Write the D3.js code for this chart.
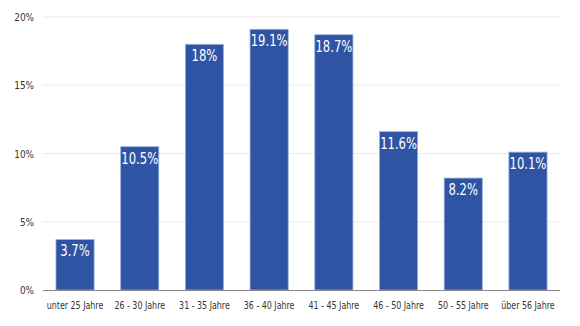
<!DOCTYPE html>
<html>
<head>
<meta charset="utf-8">
<script src="https://cdn.jsdelivr.net/npm/d3@7"></script>
<style>
  body { margin: 0; background: #fff; }
  svg { display: block; }
  text { font-family: 'DejaVu Sans Condensed', 'DejaVu Sans', sans-serif; font-stretch: condensed; }
</style>
</head>
<body>
<svg id="chart"></svg>
<script>
var categories = ["unter 25 Jahre", "26 - 30 Jahre", "31 - 35 Jahre", "36 - 40 Jahre",
                  "41 - 45 Jahre", "46 - 50 Jahre", "50 - 55 Jahre", "über 56 Jahre"];
var values = [3.7, 10.5, 18, 19.1, 18.7, 11.6, 8.2, 10.1];
var yTicks = [0, 5, 10, 15, 20];

var width = 580, height = 326;
var margin = { top: 17, right: 20, bottom: 36, left: 43 };

var svg = d3.select("#chart").attr("width", width).attr("height", height);
var g = svg.append("g").attr("transform", "translate(" + margin.left + "," + margin.top + ")");

var w = width - margin.left - margin.right;
var h = height - margin.top - margin.bottom;

var x = d3.scaleBand().domain(categories).range([0, w]).paddingInner(0.41).paddingOuter(0.2);
var y = d3.scaleLinear().domain([0, 20]).range([h, 0]);

// gridlines
g.selectAll(".grid")
  .data(yTicks.filter(function (d) { return d > 0; }))
  .enter().append("line")
  .attr("x1", 0).attr("x2", w)
  .attr("y1", function (d) { return y(d); })
  .attr("y2", function (d) { return y(d); })
  .attr("stroke", "#ebebeb").attr("stroke-width", 1);

// y axis labels
g.selectAll(".ylab")
  .data(yTicks)
  .enter().append("text")
  .attr("transform", function (d) { return "translate(-9," + (y(d) + 4) + ") scale(0.9,1)"; })
  .attr("text-anchor", "end")
  .style("font-size", "11px")
  .style("fill", "#333")
  .text(function (d) { return d + "%"; });

// bars
g.selectAll(".bar")
  .data(values)
  .enter().append("rect")
  .attr("x", function (d, i) { return x(categories[i]); })
  .attr("y", function (d) { return y(d); })
  .attr("width", x.bandwidth())
  .attr("height", function (d) { return h - y(d); })
  .attr("fill", "#2f54a4")
  .attr("stroke", "#9fb4dc")
  .attr("stroke-width", 0.8);

// value labels
g.selectAll(".val")
  .data(values)
  .enter().append("text")
  .attr("transform", function (d, i) {
    return "translate(" + (x(categories[i]) + x.bandwidth() / 2) + "," + (y(d) + 17) + ") scale(0.86,1)";
  })
  .attr("text-anchor", "middle")
  .style("font-size", "15px")
  .style("fill", "#fff")
  .text(function (d) { return d + "%"; });

// baseline
g.append("line")
  .attr("x1", 0).attr("x2", w)
  .attr("y1", h + 0.5).attr("y2", h + 0.5)
  .attr("stroke", "#888").attr("stroke-width", 1);

// x labels
g.selectAll(".xlab")
  .data(categories)
  .enter().append("text")
  .attr("transform", function (d) {
    return "translate(" + (x(d) + x.bandwidth() / 2) + "," + (h + 19) + ") scale(0.8,1)";
  })
  .attr("text-anchor", "middle")
  .style("font-size", "11px")
  .style("fill", "#333")
  .text(function (d) { return d; });
</script>
</body>
</html>
